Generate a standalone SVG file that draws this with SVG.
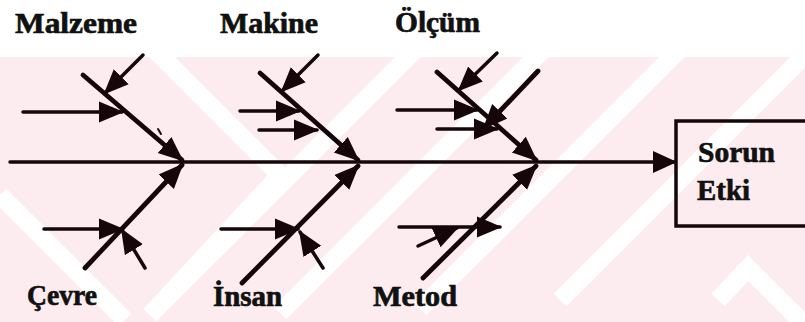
<svg xmlns="http://www.w3.org/2000/svg" width="805" height="322" viewBox="0 0 805 322">
<defs>
<style>
.wm{fill:#fdecef}
.ln{stroke:#150709;fill:none;stroke-linecap:round}
.main{stroke-width:4.8}
.sub{stroke-width:3.5}
.lbl{font-family:"Liberation Serif",serif;font-weight:700;font-size:29px;fill:#111;stroke:#111;stroke-width:0.7}
.box{fill:none;stroke:#150709;stroke-width:3.5}
</style>
<marker id="ah" markerUnits="userSpaceOnUse" markerWidth="24" markerHeight="22" viewBox="0 0 24 22" refX="22" refY="11" orient="auto">
<path d="M0,0 L24,11 L0,22 z" fill="#150709"/>
</marker>
<marker id="ahs" markerUnits="userSpaceOnUse" markerWidth="25" markerHeight="23" viewBox="0 0 25 23" refX="23" refY="11.5" orient="auto">
<path d="M0,1 L25,11.5 L0,22 z" fill="#150709"/>
</marker>
<clipPath id="wmc"><rect x="0" y="57" width="805" height="265"/></clipPath>
</defs>
<rect width="805" height="322" fill="#ffffff"/>
<g id="watermark" clip-path="url(#wmc)">
<rect class="wm" x="0" y="57" width="805" height="265"/>
<g stroke="#ffffff" stroke-width="18" fill="none">
<polyline points="150,45 280,175 150,315"/>
<polyline points="0,195 125,320"/>
<line x1="420" y1="45" x2="150" y2="315"/>
<line x1="548" y1="45" x2="280" y2="313"/>
<line x1="684" y1="45" x2="420" y2="309"/>
<line x1="815" y1="45" x2="560" y2="300"/>
<polyline points="718,300 748,268 810,330"/>
</g>
</g>
<g id="connectors" class="ln">
<path class="sub" d="M10,162 L675,162" marker-end="url(#ah)"/>
<path class="main" d="M83,75 L182,160" marker-end="url(#ahs)"/>
<path class="main" d="M85,268 L182,165" marker-end="url(#ahs)"/>
<path class="sub" d="M143,55 L105,93" marker-end="url(#ahs)"/>
<path class="sub" d="M23,112 L122,112" marker-end="url(#ahs)"/>
<path class="sub" d="M44,229 L122,229" marker-end="url(#ahs)"/>
<path class="sub" d="M145,268 L122,230" marker-end="url(#ahs)"/>
<path d="M158,129 L161,134" stroke-width="2"/>
<path class="main" d="M260,73 L358,160" marker-end="url(#ahs)"/>
<path class="main" d="M242,283 L358,166" marker-end="url(#ahs)"/>
<path class="sub" d="M318,55 L282,91" marker-end="url(#ahs)"/>
<path class="sub" d="M240,111 L299,111" marker-end="url(#ahs)"/>
<path class="sub" d="M259,130 L317,130" marker-end="url(#ahs)"/>
<path class="sub" d="M221,229 L298,229" marker-end="url(#ahs)"/>
<path class="sub" d="M323,268 L300,232" marker-end="url(#ahs)"/>
<path class="main" d="M437,72 L536,160" marker-end="url(#ahs)"/>
<path class="main" d="M423,278 L536,166" marker-end="url(#ahs)"/>
<path class="sub" d="M497,53 L459,90" marker-end="url(#ahs)"/>
<path class="sub" d="M397,110 L477,110" marker-end="url(#ahs)"/>
<path class="sub" d="M437,129 L497,129" marker-end="url(#ahs)"/>
<path class="main" d="M538,71 L484,128" marker-end="url(#ahs)"/>
<path class="sub" d="M399,227 L500,227" marker-end="url(#ahs)"/>
<path class="sub" d="M418,246 L457,228" marker-end="url(#ahs)"/>
</g>
<g id="n-malzeme"><text class="lbl" x="15" y="33" textLength="122" lengthAdjust="spacingAndGlyphs">Malzeme</text></g>
<g id="n-makine"><text class="lbl" x="220" y="33" textLength="98" lengthAdjust="spacingAndGlyphs">Makine</text></g>
<g id="n-olcum"><text class="lbl" x="395" y="32" textLength="85" lengthAdjust="spacingAndGlyphs">Ölçüm</text></g>
<g id="n-cevre"><text class="lbl" x="27" y="305" textLength="70" lengthAdjust="spacingAndGlyphs">Çevre</text></g>
<g id="n-insan"><text class="lbl" x="213" y="306" textLength="69" lengthAdjust="spacingAndGlyphs">İnsan</text></g>
<g id="n-metod"><text class="lbl" x="373" y="306" textLength="84" lengthAdjust="spacingAndGlyphs">Metod</text></g>
<g id="n-sorun">
<rect class="box" x="676" y="121" width="140" height="105"/>
<text class="lbl" x="698" y="162" style="font-size:30px" textLength="77" lengthAdjust="spacingAndGlyphs">Sorun</text>
<text class="lbl" x="697" y="200" style="font-size:30px" textLength="53" lengthAdjust="spacingAndGlyphs">Etki</text>
</g>
</svg>
